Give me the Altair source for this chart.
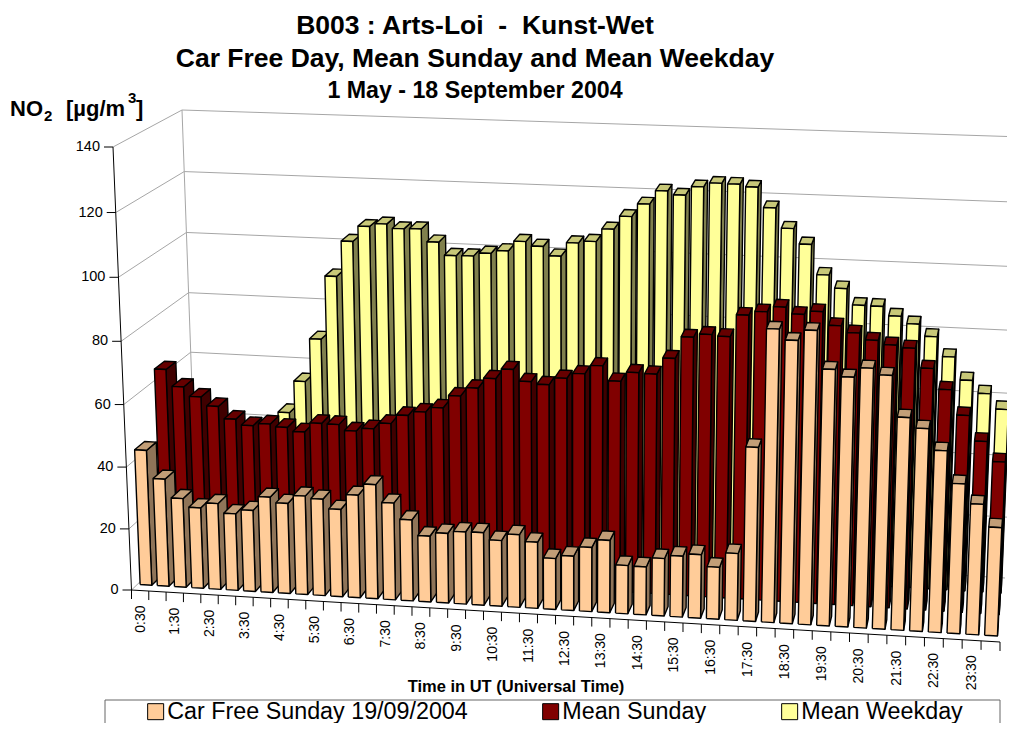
import numpy as np
import pandas as pd
import altair as alt

FONT = "Liberation Sans"
LABELS = ["%d:30" % h for h in range(24)]
CAR_FREE = [44, 35, 29, 26.3, 28, 25, 26.4, 31, 29.3, 32, 31.3, 28.3, 33.2, 36.9, 31.3, 26.2,
            21.3, 22.5, 23.3, 23.4, 21.2, 23.4, 21.3, 16.4, 17.5, 20.6, 23.2, 15.5, 15.4, 18.4, 19.5, 20.3,
            16.6, 21.3, 54.9, 91.5, 88.3, 91.6, 80, 77.9, 80.9, 79, 66.4, 63.3, 56.8, 46.9, 40.9, 34]
MEAN_SUNDAY = [64.4, 59, 56, 53.2, 49.3, 47.5, 48.3, 47.5, 46.3, 49.4, 49.3, 47.5, 48.5, 50.5, 53.4, 54.8,
               56.4, 60.5, 63.3, 66.6, 69.8, 66.2, 65.5, 67.8, 69.5, 72.3, 67.7, 70.7, 70.5, 75.7, 82.6, 83.7,
               83.3, 90.2, 91.5, 93.2, 91.2, 92.3, 88.2, 86.2, 84.2, 83, 82.3, 76.3, 70, 62.3, 54.5, 48.4]
MEAN_WEEKDAY = [45, 38, 33, 30, 30, 38, 46, 56.6, 70.8, 91.5, 103, 108, 109, 107.7, 107.9, 103.9,
                99.8, 99.9, 101, 102, 105.2, 103.9, 101, 105.4, 106.1, 110.2, 114.4, 118.5, 122.8, 121.7, 124.5, 125.8,
                125.7, 125, 118.8, 112.6, 107.9, 98.6, 94.6, 89.6, 89.5, 86.7, 84.5, 80.8, 74.7, 67.6, 63.7, 59]
SERIES = ["Car Free Sunday 19/09/2004", "Mean Sunday", "Mean Weekday"]
FRONT = ["#FFCC99", "#800000", "#FFFF99"]
SIDE = ["#8F7458", "#400000", "#80804D"]
TOP = ["#C29E77", "#660000", "#C8C878"]
Y_TICKS = [0, 20, 40, 60, 80, 100, 120, 140]
TITLE = ["B003 : Arts-Loi \u00a0-\u00a0 Kunst-Wet", "Car Free Day, Mean Sunday and Mean Weekday"]
SUBTITLE = "1 May - 18 September 2004"
XTITLE = "Time in UT (Universal Time)"

# view of the 3-D box: corners of the front and back planes, in (u, value/140) order
FRONT_PLANE = [(131.5, 590), (1000, 642), (1018.5, 179), (113, 147)]
BACK_PLANE = [(197, 527), (1005, 578), (1023, 137), (182, 110)]

def homography(pts):
    src = [(0, 0), (1, 0), (1, 1), (0, 1)]
    A, b = [], []
    for (s, t), (x, y) in zip(src, pts):
        A.append([s, t, 1, 0, 0, 0, -s*x, -t*x]); b.append(x)
        A.append([0, 0, 0, s, t, 1, -s*y, -t*y]); b.append(y)
    return np.append(np.linalg.solve(np.array(A, float), np.array(b, float)), 1).reshape(3, 3)

HF, HB = homography(FRONT_PLANE), homography(BACK_PLANE)

def proj(u, v, val):
    p = np.array([u, val / 140, 1.0])
    f, g = HF @ p, HB @ p
    f, g = f[:2] / f[2], g[:2] / g[2]
    r = f + (g - f) * v
    return float(r[0]), float(r[1])

N = 48
HW = 0.34 / N
V0 = [0.09, 0.425, 0.76]
DEPTH = 0.15
recs = []
pid = 0
def face(name, pts):
    global pid
    pid += 1
    closed = list(pts) + [pts[0]]
    for k, (u, v, val) in enumerate(closed):
        x, y = proj(u, v, val)
        recs.append({"px": x, "py": y, "pid": "f%05d" % pid, "k": k, "face": name})

for s in (2, 1, 0):
    vals = [CAR_FREE, MEAN_SUNDAY, MEAN_WEEKDAY][s]
    for i, val in enumerate(vals):
        c = (i + 0.5) / N
        a, b = c - HW, c + HW
        v0, v1 = V0[s], V0[s] + DEPTH
        face(SERIES[s] + " side", [(b, v0, 0), (b, v1, 0), (b, v1, val), (b, v0, val)])
        face(SERIES[s] + " top", [(a, v0, val), (b, v0, val), (b, v1, val), (a, v1, val)])
        face(SERIES[s], [(a, v0, 0), (b, v0, 0), (b, v0, val), (a, v0, val)])
bars = pd.DataFrame(recs)

domain = []
rng = []
for s in range(3):
    domain += [SERIES[s], SERIES[s] + " side", SERIES[s] + " top"]
    rng += [FRONT[s], SIDE[s], TOP[s]]

XS = alt.Scale(domain=[8, 1007], range=[0, 999])
YS = alt.Scale(domain=[8, 723], range=[0, 715])
X = alt.X("px:Q", scale=XS, axis=None)
Y = alt.Y("py:Q", scale=YS, axis=None)

def seglayer(segs, color, width):
    r = []
    for n, (p, q) in enumerate(segs):
        for k, e in enumerate((p, q)):
            x, y = e
            r.append({"px": x, "py": y, "pid": "s%04d" % n, "k": k})
    return alt.Chart(pd.DataFrame(r)).mark_line(color=color, strokeWidth=width).encode(
        x=X, y=Y, detail="pid:N", order="k:Q")

walls = []
for t in Y_TICKS:
    walls.append((proj(0, 0, t), proj(0, 1, t)))
    walls.append((proj(0, 1, t), proj(1, 1, t)))
walls.append((proj(0, 1, 0), proj(0, 1, 140)))
wall_layer = seglayer(walls, "#A6A6A6", 1)

axes = [(proj(0, 0, 0), proj(0, 0, 140)), (proj(0, 0, 0), proj(1, 0, 0))]
for t in Y_TICKS:
    x, y = proj(0, 0, t)
    axes.append(((x, y), (x - 9, y)))
for i in range(N + 1):
    x, y = proj(i / N, 0, 0)
    axes.append(((x, y), (x, y + 9)))
axis_layer = seglayer(axes, "#000000", 1)

bar_layer = alt.Chart(bars).mark_line(stroke="black", strokeWidth=1.4, strokeJoin="round").encode(
    x=X, y=Y, detail="pid:N", order="k:Q",
    fill=alt.Fill("face:N", scale=alt.Scale(domain=domain, range=rng),
                  legend=alt.Legend(values=SERIES, title=None, orient="none", legendX=136, legendY=692,
                                    direction="horizontal", columns=3, gridAlign="each", columnPadding=71,
                                    symbolType="square", symbolSize=256, symbolStrokeColor="black",
                                    symbolStrokeWidth=1, labelFont=FONT, labelFontSize=23.3, labelColor="black",
                                    labelOffset=0, padding=0, labelLimit=400)))

ydf = pd.DataFrame([{"px": proj(0, 0, t)[0] - 13, "py": proj(0, 0, t)[1], "t": str(t)} for t in Y_TICKS])
ylab = alt.Chart(ydf).mark_text(font=FONT, fontSize=14.5, align="right", baseline="middle", color="black").encode(
    x=X, y=Y, text="t:N")
xdf = pd.DataFrame([{"px": proj((2 * i + 0.5) / N, 0, 0)[0] + 0.5, "py": proj((2 * i + 0.5) / N, 0, 0)[1] + 15, "t": LABELS[i]}
                    for i in range(24)])
xlab = alt.Chart(xdf).mark_text(font=FONT, fontSize=14, align="right", baseline="middle", angle=270, color="black").encode(
    x=X, y=Y, text="t:N")
xt = alt.Chart(pd.DataFrame({"t": [XTITLE]})).mark_text(font=FONT, fontSize=16.5, fontWeight="bold", align="center",
    baseline="alphabetic", color="black").encode(x=alt.value(508), y=alt.value(684), text="t:N")

yt_parts = [("NO", 2, 108, 22), ("2", 36, 113, 15), ("[\u00b5g/m", 58, 108, 22), ("3", 120, 95, 15), ("]", 128, 108, 22)]
yt_layers = [alt.Chart(pd.DataFrame({"t": [p[0]]})).mark_text(font=FONT, fontSize=p[3], fontWeight="bold", align="left",
             baseline="alphabetic", color="black").encode(x=alt.value(p[1]), y=alt.value(p[2]), text="t:N") for p in yt_parts]

box = alt.Chart(pd.DataFrame({"a": [0]})).mark_rect(fill="white", stroke="#666666", strokeWidth=1).encode(
    x=alt.value(97), x2=alt.value(992), y=alt.value(692), y2=alt.value(760))

chart = alt.layer(wall_layer, box, bar_layer, axis_layer, ylab, xlab, xt, *yt_layers).resolve_scale(
    x="shared", y="shared").properties(
    width=999, height=715, padding=0, autosize=alt.AutoSizeParams(type="none"),
    title=alt.TitleParams(text=TITLE, subtitle=SUBTITLE, font=FONT, fontSize=26.5, fontWeight="bold", lineHeight=32.5,
                          subtitleFont=FONT, subtitleFontSize=23.2, subtitleFontWeight="bold", subtitleColor="black",
                          color="black", anchor="middle", frame="group", dx=-32.5, dy=98.5, subtitlePadding=8)
).configure_view(stroke=None)

chart.save("out.html", embed_options={"renderer": "svg", "actions": False})
